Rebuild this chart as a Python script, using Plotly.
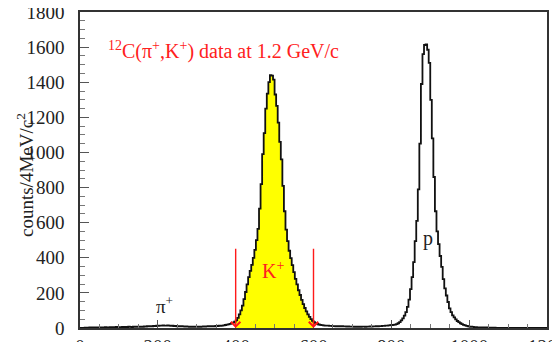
import plotly.graph_objects as go

# ---- data (counts per 4 MeV/c^2 bin, bin edges 0..1200) ----
bin_width = 4
x_min, x_max = 0, 1200
counts = [
    # 0-100
    0, 1, 1, 2, 1, 2, 3, 2, 3, 2, 3, 4, 3, 4, 3, 4, 5, 4, 3, 5, 4, 5, 4, 6, 5,
    # 100-200
    5, 4, 6, 5, 6, 5, 7, 6, 5, 7, 6, 8, 7, 6, 8, 7, 9, 8, 10, 9, 11, 10, 12, 11, 13,
    # 200-300
    12, 14, 13, 15, 14, 13, 15, 14, 12, 13, 11, 12, 10, 11, 9, 10, 9, 8, 9, 8, 7, 8, 7, 8, 7,
    # 300-400
    7, 8, 7, 8, 9, 8, 9, 10, 9, 10, 11, 10, 12, 11, 13, 12, 14, 15, 17, 19, 21, 24, 27, 31, 36,
    # 400-500
    43, 58, 78, 100, 128, 165, 205, 248, 290, 325, 360, 400, 445, 500, 565, 680, 820, 990, 1110, 1250, 1335, 1400, 1440, 1438, 1415,
    # 500-600
    1330, 1265, 1170, 1060, 960, 810, 665, 560, 495, 440, 398, 358, 318, 280, 248, 215, 188, 160, 136, 114, 95, 78, 63, 51, 41,
    # 600-700
    33, 27, 23, 20, 18, 16, 15, 14, 13, 13, 12, 12, 11, 11, 10, 10, 10, 9, 10, 9, 9, 8, 9, 8, 8,
    # 700-800
    8, 7, 8, 7, 8, 7, 8, 8, 7, 8, 8, 9, 8, 9, 9, 10, 10, 11, 11, 12, 12, 13, 14, 15, 16,
    # 800-900
    17, 18, 19, 22, 27, 34, 43, 55, 70, 90, 120, 162, 222, 290, 375, 495, 610, 790, 1050, 1390, 1560, 1612, 1615, 1585, 1510,
    # 900-1000
    1300, 1080, 860, 665, 550, 478, 410, 348, 278, 226, 185, 148, 112, 90, 72, 60, 49, 40, 33, 27, 22, 18, 15, 12, 10,
    # 1000-1100
    8, 7, 6, 5, 5, 4, 4, 3, 3, 3, 2, 3, 2, 2, 2, 1, 2, 1, 1, 1, 1, 1, 0, 1, 1,
    # 1100-1200
    1, 0, 1, 0, 1, 0, 0, 1, 0, 0, 1, 0, 0, 0, 1, 0, 0, 0, 0, 0, 0, 0, 0, 0, 0,
]
cut_low, cut_high = 400, 600
x_ticks = [0, 200, 400, 600, 800, 1000, 1200]
y_ticks = [0, 200, 400, 600, 800, 1000, 1200, 1400, 1600, 1800]
title_text = "<sup>12</sup>C(π<sup>+</sup>,K<sup>+</sup>) data at 1.2 GeV/c"
y_title = "counts/4MeV/c<sup>2</sup>"
arrow_top = 460

# ---- build step arrays ----
edges = [x_min + i * bin_width for i in range(len(counts) + 1)]
step_y = counts + [counts[-1]]
i0 = (cut_low - x_min) // bin_width
i1 = (cut_high - x_min) // bin_width
fill_x = edges[i0:i1 + 1]
fill_y = counts[i0:i1] + [counts[i1 - 1]]

FONT = "'Liberation Serif', 'DejaVu Serif', serif"

fig = go.Figure()
fig.add_trace(go.Scatter(x=fill_x, y=fill_y, mode="lines", line=dict(shape="hv", width=0, color="#ffff00"),
                         fill="tozeroy", fillcolor="#ffff00", hoverinfo="skip", showlegend=False))
fig.add_trace(go.Scatter(x=edges, y=step_y, mode="lines", line=dict(shape="hv", width=1.8, color="#111111"),
                         showlegend=False))

for xc in (cut_low, cut_high):
    fig.add_annotation(x=xc, y=0, ax=xc, ay=arrow_top, xref="x", yref="y", axref="x", ayref="y",
                       text="", showarrow=True, arrowhead=4, arrowsize=1.3, arrowwidth=1.4, arrowcolor="#ff1a1a")

fig.add_annotation(x=370, y=1583, xref="x", yref="y", text=title_text, showarrow=False,
                   font=dict(family=FONT, size=20, color="#ff2020"))
fig.add_annotation(x=496, y=330, xref="x", yref="y", text="K<sup>+</sup>", showarrow=False,
                   font=dict(family=FONT, size=20, color="#ff2020"))
fig.add_annotation(x=895, y=507, xref="x", yref="y", text="p", showarrow=False,
                   font=dict(family=FONT, size=20, color="#222222"))
fig.add_annotation(x=218, y=131, xref="x", yref="y", text="π<sup>+</sup>", showarrow=False,
                   font=dict(family=FONT, size=19, color="#222222"))
fig.add_annotation(x=0, y=0.5, xref="paper", yref="paper", xanchor="center", yanchor="middle",
                   xshift=-55, yshift=-5, text=y_title,
                   showarrow=False, textangle=-90,
                   font=dict(family=FONT, size=19, color="#222222"))

axis_common = dict(showgrid=False, zeroline=False, showline=True, linecolor="#333333", linewidth=1.6,
                   mirror=True, ticks="inside", tickcolor="#555555", automargin=False,
                   ticklabeloverflow="allow",
                   tickfont=dict(family=FONT, size=19, color="#222222"))
fig.update_xaxes(range=[x_min, x_max], tickvals=x_ticks, ticklen=8, tickwidth=1,
                 minor=dict(dtick=50, tick0=0, ticks="inside", ticklen=4, tickcolor="#777777"),
                 ticklabelstandoff=0, **axis_common)
fig.update_yaxes(range=[0, 1800], tickvals=y_ticks, ticklen=9, tickwidth=1,
                 minor=dict(dtick=50, tick0=0, ticks="inside", ticklen=5, tickcolor="#777777"),
                 ticklabelstandoff=10, **axis_common)

# page body has an 8px margin: shift figure so the plot box lands at x 80-547, y 12-328
fig.update_layout(width=552, height=334, margin=dict(l=72, r=13, t=4, b=14, autoexpand=False),
                  plot_bgcolor="white", paper_bgcolor="white", showlegend=False)

fig.write_html("out.html")
